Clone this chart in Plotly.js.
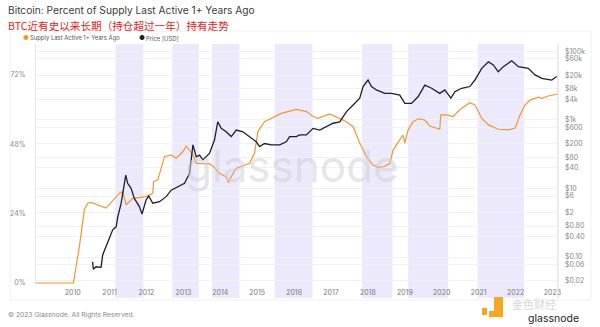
<!DOCTYPE html>
<html><head><meta charset="utf-8">
<script src="https://cdn.plot.ly/plotly-3.0.1.min.js"></script>
<style>html,body{margin:0;padding:0;background:#fff}#chart{width:600px;height:327px}</style>
</head><body><div id="chart"></div>
<script>
// ---- data ----
const supplyDates = ['2009-01-03','2010-01-08','2010-03-08','2010-04-26','2010-05-29','2010-07-01','2010-11-27','2011-04-08','2011-05-11','2011-06-14','2011-08-18','2011-12-28','2012-03-04','2012-03-11','2012-04-22','2012-06-28','2012-09-02','2012-10-21','2012-12-26','2013-01-29','2013-04-05','2013-05-08','2013-09-16','2013-10-19','2013-12-24','2014-02-28','2014-03-23','2014-04-19','2014-06-08','2014-10-18','2014-12-06','2015-01-08','2015-03-15','2015-06-22','2015-08-27','2016-01-23','2016-05-02','2016-07-07','2016-08-25','2016-12-19','2017-03-28','2017-06-03','2017-08-07','2017-10-12','2017-12-17','2018-02-21','2018-04-11','2018-06-17','2018-08-05','2018-09-07','2018-11-12','2018-12-14','2019-01-01','2019-02-03','2019-03-24','2019-05-12','2019-07-18','2019-09-06','2019-12-13','2019-12-23','2020-02-18','2020-04-23','2020-07-16','2020-10-06','2020-11-25','2021-01-31','2021-04-07','2021-07-14','2021-10-22','2021-12-27','2022-02-15','2022-04-05','2022-05-24','2022-08-15','2022-09-17','2022-11-21','2023-02-25'];
const supplyPct = [0,0,12.6,25.3,27.6,27.9,25.9,31.0,31.6,27.0,29.3,29.9,31.0,35.1,35.7,43.7,44.3,43.2,45.4,47.4,44.3,41.4,41.2,40.5,38.0,36.8,34.7,36.8,39.7,41.4,44.9,52.4,55.8,57.6,58.7,60.1,59.3,57.6,57.0,58.5,57.0,55.8,54.1,48.4,43.7,40.8,40.0,40.3,41.4,46.0,49.5,51.2,48.4,53.0,55.8,56.8,56.4,54.3,53.2,58.2,58.2,57.6,60.5,62.4,61.6,57.0,54.7,53.2,53.0,53.6,58.2,61.6,63.3,64.3,63.9,64.7,65.4];

const priceDates = ['2010-07-17','2010-07-25','2010-08-20','2010-10-09','2010-10-25','2010-11-27','2010-12-30','2011-02-01','2011-03-07','2011-03-23','2011-04-26','2011-05-21','2011-06-10','2011-06-29','2011-08-02','2011-09-03','2011-10-23','2011-11-18','2011-12-28','2012-01-23','2012-03-04','2012-05-09','2012-07-14','2012-09-02','2012-11-06','2013-01-12','2013-03-03','2013-04-05','2013-05-08','2013-06-10','2013-07-12','2013-07-28','2013-09-16','2013-11-04','2013-12-07','2014-01-10','2014-02-28','2014-04-19','2014-06-08','2014-08-12','2014-10-18','2014-12-23','2015-01-25','2015-03-15','2015-05-20','2015-08-11','2015-10-16','2015-11-18','2016-01-23','2016-02-25','2016-05-02','2016-07-07','2016-09-11','2016-11-16','2017-01-21','2017-03-28','2017-06-03','2017-08-07','2017-10-12','2017-11-14','2018-01-02','2018-02-05','2018-03-26','2018-06-17','2018-08-22','2018-11-12','2019-01-01','2019-03-08','2019-05-12','2019-07-18','2019-09-23','2019-12-13','2020-02-01','2020-04-01','2020-05-11','2020-07-16','2020-10-06','2020-11-25','2021-01-31','2021-04-07','2021-05-26','2021-07-14','2021-09-02','2021-11-24','2022-01-29','2022-05-07','2022-07-13','2022-09-17','2022-12-25','2023-02-12'];
const priceUsd = [0.072,0.044,0.052,0.050,0.115,0.20,0.32,0.62,0.76,1.48,3.7,11.2,24.5,14.1,10.0,5.1,2.95,1.78,4.6,6.0,3.7,4.1,5.75,8.9,11.2,14.1,27.5,186,83,93,68,76,105,257,871,562,447,324,501,447,324,229,166,204,186,186,229,324,324,363,363,562,501,631,794,871,1738,2692,4266,9333,14454,9333,7413,5888,5888,5248,3020,3020,4677,10233,8318,5888,7413,4266,6607,8318,9333,14454,31623,48978,39811,25119,35481,52481,35481,31623,20417,16218,14454,18197];

const bandStarts = ['2011-02-28','2012-09-12','2013-10-09','2015-06-22','2017-11-04','2019-02-03','2020-12-22'];
const bandEnds   = ['2011-12-01','2013-06-03','2014-07-10','2016-07-01','2018-09-01','2020-03-05','2022-03-25'];

const pctTicks = [0,24,48,72];
const pctLabels = ['0%','24%','48%','72%'];
const priceTicks = [0.02,0.06,0.10,0.40,0.80,2,6,10,40,80,200,600,1000,4000,8000,20000,60000,100000];
const priceLabels = ['$0.02','$0.06','$0.10','$0.40','$0.80','$2','$6','$10','$40','$80','$200','$600','$1k','$4k','$8k','$20k','$60k','$100k'];

const seriesNames = ['Supply Last Active 1+ Years Ago','Price [USD]'];
const seriesColors = ['#f2962f','#1d1d2b'];

// ---- layout helpers (pixel -> paper) ----
const W=600,H=327,L=36,R=42,T=44,B=42;
const pw=W-L-R, ph=H-T-B;
const px = x => (x-L)/pw;
const py = y => (H-B-y)/ph;
const FONT = 'Inter, Roboto, sans-serif';

const shapes = bandStarts.map((s,i)=>({type:'rect',xref:'x',yref:'paper',x0:s,x1:bandEnds[i],y0:py(298),y1:1,fillcolor:'#ece9fd',line:{width:0},layer:'below'}));
shapes.push({type:'line',xref:'paper',yref:'paper',x0:1,x1:1,y0:py(298),y1:1,line:{color:'#d8d8d8',width:1}});
shapes.push({type:'rect',xref:'paper',yref:'paper',x0:px(10),x1:px(591),y0:py(300),y1:py(31),line:{color:'#f0f0f0',width:1},fillcolor:'rgba(0,0,0,0)',layer:'below'});
// jinse logo blocks
shapes.push({type:'rect',xref:'paper',yref:'paper',x0:px(482),x1:px(487),y0:py(315),y1:py(308),fillcolor:'#f5a623',line:{width:0}});
shapes.push({type:'rect',xref:'paper',yref:'paper',x0:px(494),x1:px(503),y0:py(317),y1:py(297),fillcolor:'#f5a623',line:{width:0}});
shapes.push({type:'rect',xref:'paper',yref:'paper',x0:px(489),x1:px(503),y0:py(317),y1:py(311),fillcolor:'#f5a623',line:{width:0}});

const ann = (x,y,text,size,color,extra) => Object.assign({xref:'paper',yref:'paper',x:px(x),y:py(y),text:text,showarrow:false,xanchor:'left',yanchor:'middle',borderpad:0,font:{family:FONT,size:size,color:color}},extra||{});

const annotations = [
  ann(7,10,'Bitcoin: Percent of Supply Last Active 1+ Years Ago',10.2,'#3a3a3a'),
  ann(7,25,'BTC近有史以来长期（持仓超过一年）持有走势',10.6,'#e5231b',{font:{family:'Noto Sans CJK SC',size:10.6,color:'#e5231b'}}),
  ann(22,38,'●',6.5,seriesColors[0]),
  ann(29,38,seriesNames[0],5.9,'#555'),
  ann(138,38,'●',6.5,seriesColors[1]),
  ann(145,38,seriesNames[1],5.9,'#555'),
  ann(292,166,'glassnode',44,'rgba(208,208,214,0.55)',{xanchor:'center'}),
  ann(7,315,'© 2023 Glassnode. All Rights Reserved.',6.7,'#888'),
  ann(511,303.5,'金色财经',11,'rgba(205,205,205,0.9)',{font:{family:'Noto Sans CJK SC',size:11,color:'rgba(208,208,208,0.9)'}}),
  ann(527,318.5,'glassnode',10.5,'#222'),
];

const traces = [
  {x:supplyDates,y:supplyPct,type:'scatter',mode:'lines',name:seriesNames[0],line:{color:seriesColors[0],width:1.2},yaxis:'y',hoverinfo:'skip'},
  {x:priceDates,y:priceUsd,type:'scatter',mode:'lines',name:seriesNames[1],line:{color:seriesColors[1],width:1.3},yaxis:'y2',hoverinfo:'skip'}
];

const layout = {
  width:W,height:H,margin:{l:L,r:R,t:T,b:B},
  paper_bgcolor:'#fff',plot_bgcolor:'rgba(0,0,0,0)',
  showlegend:false,
  font:{family:FONT,color:'#888',size:7},
  xaxis:{type:'date',range:['2009-01-03','2023-02-25'],showgrid:false,zeroline:false,showline:false,ticks:'',
    tickvals:['2010-01-01','2011-01-01','2012-01-01','2013-01-01','2014-01-01','2015-01-01','2016-01-01','2017-01-01','2018-01-01','2019-01-01','2020-01-01','2021-01-01','2022-01-01','2023-01-01'],
    ticktext:['2010','2011','2012','2013','2014','2015','2016','2017','2018','2019','2020','2021','2022','2023'],
    ticklabelstandoff:2,tickfont:{size:7,color:'#777'}},
  yaxis:{range:[-0.7,82.7],tickvals:pctTicks,ticktext:pctLabels,showgrid:false,zeroline:false,showline:true,linecolor:'#f0e6d8',linewidth:1,ticks:'',ticklabelstandoff:8,tickfont:{size:7,color:'#888'}},
  yaxis2:{type:'log',overlaying:'y',side:'right',range:[-1.816,5.21],tickvals:priceTicks,ticktext:priceLabels,showgrid:true,gridcolor:'#f1f1f1',gridwidth:1,zeroline:false,showline:false,ticks:'',ticklabelstandoff:6,tickfont:{size:7,color:'#888'}},
  shapes:shapes,annotations:annotations
};
Plotly.newPlot('chart',traces,layout,{staticPlot:true});
</script></body></html>
